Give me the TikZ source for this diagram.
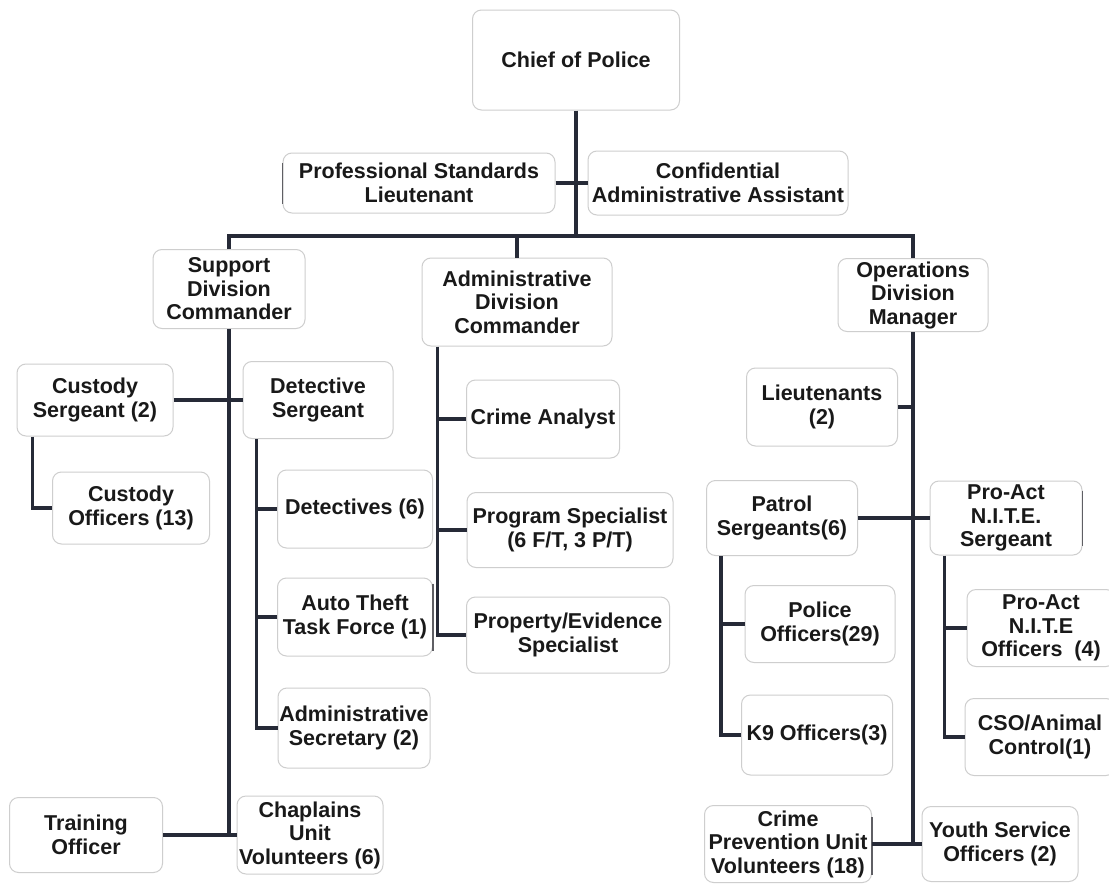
\documentclass[tikz,border=0pt]{standalone}
\usepackage{fontspec}
\setmainfont{Liberation Sans}
\definecolor{boxgray}{RGB}{206,206,206}
\definecolor{edgegray}{RGB}{95,95,100}
\definecolor{linecol}{RGB}{38,42,55}
\definecolor{txtcol}{RGB}{25,25,25}
\begin{document}
\begin{tikzpicture}[x=1pt,y=-1pt,
  orgbox/.style={draw=boxgray, line width=1pt, rounded corners=9pt, align=center,
    inner sep=0pt, text=txtcol, font=\fontsize{21.5}{23.5}\selectfont\bfseries},
  conn/.style={draw=linecol, line width=3.3pt},
  darkedge/.style={draw=edgegray, line width=1.3pt}]
\useasboundingbox (0,0) rectangle (1109,886);
\clip (0,0) rectangle (1109,886);
\fill[white] (0,0) rectangle (1109,886);

% top
\node[orgbox, minimum width=207, minimum height=100] (chief) at (576,60) {Chief of Police};
\node[orgbox, minimum width=272, minimum height=60] (prof) at (419,183) {Professional Standards\\Lieutenant};
\node[orgbox, minimum width=260, minimum height=64] (conf) at (718,183) {Confidential\\Administrative Assistant};

% divisions
\node[orgbox, minimum width=152, minimum height=79] (support) at (229,289) {Support\\Division\\Commander};
\node[orgbox, minimum width=190, minimum height=88] (admin) at (517,302) {Administrative\\Division\\Commander};
\node[orgbox, minimum width=150, minimum height=73] (ops) at (913,295) {Operations\\Division\\Manager};

% support division
\node[orgbox, minimum width=156, minimum height=72] (custsgt) at (95,400) {Custody\\Sergeant (2)};
\node[orgbox, minimum width=150, minimum height=77] (detsgt) at (318,400) {Detective\\Sergeant};
\node[orgbox, minimum width=157, minimum height=72] (custoff) at (131,508) {Custody\\Officers (13)};
\node[orgbox, minimum width=155, minimum height=78] (detectives) at (355,509) {Detectives (6)};
\node[orgbox, minimum width=155, minimum height=78] (autotheft) at (355,617) {Auto Theft\\Task Force (1)};
\node[orgbox, minimum width=152, minimum height=80] (adminsec) at (354,728) {Administrative\\Secretary (2)};
\node[orgbox, minimum width=153, minimum height=75] (training) at (86,835) {Training\\Officer};
\node[orgbox, minimum width=146, minimum height=78] (chaplains) at (310,835) {Chaplains\\Unit\\Volunteers (6)};

% administrative division
\node[orgbox, minimum width=153, minimum height=78] (analyst) at (543,419) {Crime Analyst};
\node[orgbox, minimum width=206, minimum height=75] (progspec) at (570,530) {Program Specialist\\(6 F/T, 3 P/T)};
\node[orgbox, minimum width=203, minimum height=76] (propevid) at (568,635) {Property/Evidence\\Specialist};

% operations division
\node[orgbox, minimum width=151, minimum height=78] (lieut) at (822,407) {Lieutenants\\(2)};
\node[orgbox, minimum width=151, minimum height=75] (patrol) at (782,518) {Patrol\\Sergeants(6)};
\node[orgbox, minimum width=152, minimum height=74] (proactsgt) at (1006,518) {Pro-Act\\N.I.T.E.\\Sergeant};
\node[orgbox, minimum width=150, minimum height=77] (policeoff) at (820,624) {Police\\Officers(29)};
\node[orgbox, minimum width=151, minimum height=80] (k9) at (817,735) {K9 Officers(3)};
\node[orgbox, minimum width=148, minimum height=77] (proactoff) at (1041,628) {Pro-Act\\N.I.T.E\\Officers~~(4)};
\node[orgbox, minimum width=150, minimum height=77] (cso) at (1040,737) {CSO/Animal\\Control(1)};
\node[orgbox, minimum width=167, minimum height=77] (crimeprev) at (788,844) {Crime\\Prevention Unit\\Volunteers (18)};
\node[orgbox, minimum width=156, minimum height=75] (youth) at (1000,844) {Youth Service\\Officers (2)};

% darker scanned edge fragments
\draw[darkedge] ([yshift=-6pt]autotheft.north east) -- ([yshift=6pt]autotheft.south east);
\draw[darkedge] ([yshift=-10pt]proactsgt.north east) -- ([yshift=10pt]proactsgt.south east);
\draw[darkedge] ([yshift=-12pt]crimeprev.north east) -- ([yshift=8pt]crimeprev.south east);
\draw[darkedge] ([yshift=-10pt]prof.north west) -- ([yshift=10pt]prof.south west);

% connectors
\coordinate (j0) at (576,236);
\draw[conn] (chief.south) -- (chief.south |- j0);
\draw[conn] (prof.east) -- (conf.west);
\draw[conn] (support.north) |- (j0) -| (ops.north);
\draw[conn] (admin.north) -- (admin.north |- j0);

% support division lines
\draw[conn] (support.south) -- (support.south |- training.east);
\draw[conn] (training.east) -- (chaplains.west);
\draw[conn] (custsgt.east) -- (detsgt.west);
\coordinate (cv) at ([xshift=16pt]custsgt.south west);
\draw[conn] (cv) |- (custoff.west);
\coordinate (dv) at ([xshift=14pt]detsgt.south west);
\draw[conn] (dv) |- (adminsec.west);
\draw[conn] (dv |- detectives.west) -- (detectives.west);
\draw[conn] (dv |- autotheft.west) -- (autotheft.west);

% administrative division lines
\coordinate (av) at ([xshift=16pt]admin.south west);
\draw[conn] (av) |- (propevid.west);
\draw[conn] (av |- analyst.west) -- (analyst.west);
\draw[conn] (av |- progspec.west) -- (progspec.west);

% operations division lines
\draw[conn] (ops.south) -- (ops.south |- crimeprev.east);
\draw[conn] (crimeprev.east) -- (youth.west);
\draw[conn] (lieut.east) -- (lieut.east -| ops.south);
\draw[conn] (patrol.east) -- (proactsgt.west);
\coordinate (pv) at ([xshift=15pt]patrol.south west);
\draw[conn] (pv) |- (k9.west);
\draw[conn] (pv |- policeoff.west) -- (policeoff.west);
\coordinate (nv) at ([xshift=15pt]proactsgt.south west);
\draw[conn] (nv) |- (cso.west);
\draw[conn] (nv |- proactoff.west) -- (proactoff.west);
\end{tikzpicture}
\end{document}
